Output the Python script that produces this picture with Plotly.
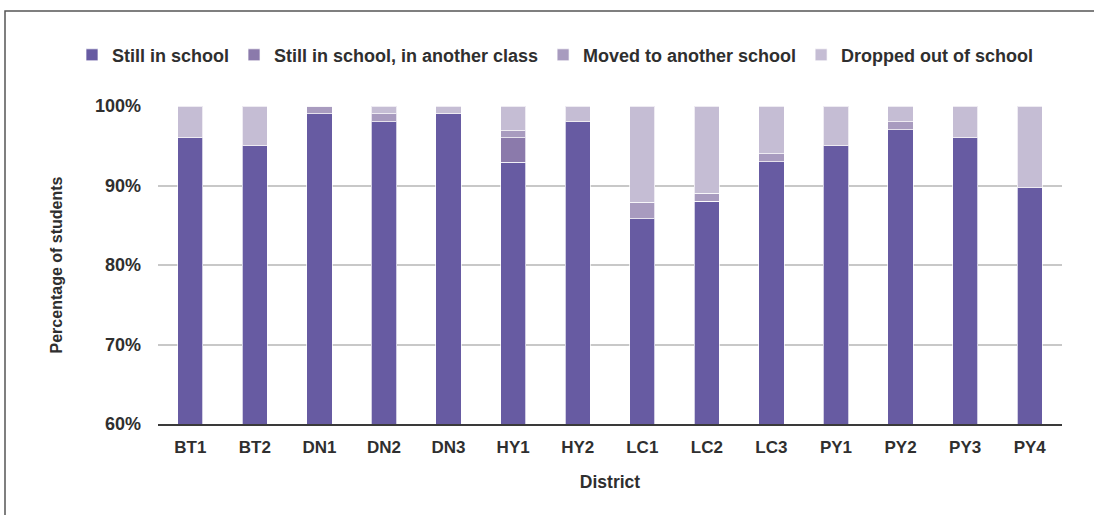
import plotly.graph_objects as go

districts = ["BT1", "BT2", "DN1", "DN2", "DN3", "HY1", "HY2", "LC1", "LC2", "LC3", "PY1", "PY2", "PY3", "PY4"]
still_in_school = [96, 95, 99, 98, 99, 92.9, 98, 85.8, 88, 93, 95, 97, 96, 89.7]
another_class   = [0, 0, 0, 0, 0, 3.1, 0, 0, 0, 0, 0, 0, 0, 0]
moved_school    = [0, 0, 1, 1, 0, 0.9, 0, 2.1, 1, 1, 0, 1, 0, 0]
dropped_out     = [4, 5, 0, 1, 1, 3.1, 2, 12.1, 11, 6, 5, 2, 4, 10.3]
y_ticks = [60, 70, 80, 90, 100]
y_tick_labels = ["60%", "70%", "80%", "90%", "100%"]

series = [
    ("Still in school", still_in_school, "#675ba2"),
    ("Still in school, in another class", another_class, "#8b7aab"),
    ("Moved to another school", moved_school, "#a89bbf"),
    ("Dropped out of school", dropped_out, "#c5bdd4"),
]

FONT = "Liberation Sans, Arial, sans-serif"
TXT = "#2f2f2f"

fig = go.Figure()
for name, vals, col in series:
    fig.add_trace(go.Bar(
        x=districts, y=vals, name=name,
        marker=dict(color=col, line=dict(color="rgba(255,255,255,0.7)", width=1)),
    ))

L, T, B_PX = 158, 106, 424
PW, PH = 1062 - 158, B_PX - T

fig.update_layout(
    barmode="stack",
    bargap=0.61,
    width=1094, height=515,
    margin=dict(l=L, r=1094 - 1062, t=T, b=515 - B_PX),
    paper_bgcolor="white", plot_bgcolor="white",
    font=dict(family=FONT, size=17, color=TXT),
    showlegend=True,
    legend=dict(
        orientation="h", x=(72 - L) / PW, xanchor="left", y=1.16, yanchor="middle",
        font=dict(family=FONT, size=18, color=TXT, weight="bold"),
        itemwidth=30, traceorder="normal", bgcolor="rgba(0,0,0,0)",
    ),
    xaxis=dict(
        title=dict(text="<b>District</b>", font=dict(family=FONT, size=17.5, color=TXT), standoff=19),
        tickfont=dict(family=FONT, size=17, color=TXT, weight="bold"),
        showline=True, linecolor="#3a3a3a", linewidth=2,
        ticks="", showgrid=False, ticklabelstandoff=7,
    ),
    yaxis=dict(
        title=dict(text="<b>Percentage of students</b>", font=dict(family=FONT, size=16, color=TXT), standoff=28),
        range=[60, 100], tickvals=y_ticks, ticktext=y_tick_labels,
        tickfont=dict(family=FONT, size=18, color=TXT, weight="bold"),
        showgrid=True, gridcolor="#c8c8c8", gridwidth=2,
        zeroline=False, showline=False, ticks="", ticklabelstandoff=16,
    ),
    shapes=[
        dict(type="rect", xref="paper", yref="paper",
             x0=(5 - L) / PW, x1=(1100 - L) / PW,
             y0=(B_PX - 530) / PH, y1=(B_PX - 11) / PH,
             line=dict(color="#555555", width=1.5), fillcolor="rgba(0,0,0,0)", layer="below"),
    ],
)

fig.write_html("out.html", config={"displayModeBar": False},
               post_script="document.body.style.margin='0';")
